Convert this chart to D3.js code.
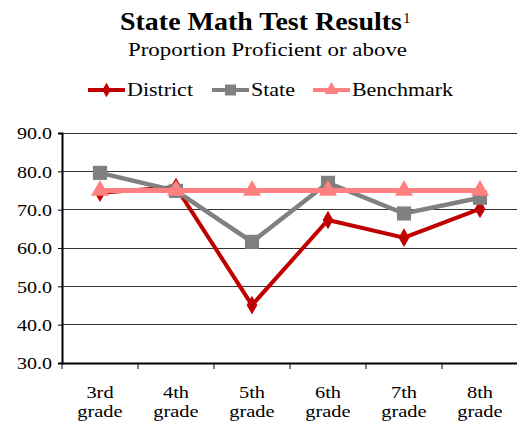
<!DOCTYPE html>
<html><head><meta charset="utf-8">
<script src="https://cdn.jsdelivr.net/npm/d3@7"></script>
<style>body{margin:0;background:#fff}svg{display:block}text{font-family:'Liberation Serif',serif}</style>
</head><body>
<script>
const grades = ["3rd grade","4th grade","5th grade","6th grade","7th grade","8th grade"];
const district = [74.4, 75.9, 45.1, 67.3, 62.7, 70.2];
const state = [79.6, 74.9, 61.6, 77.0, 69.0, 73.1];
const benchmark = [75, 75, 75, 75, 75, 75];
const yTicks = [30, 40, 50, 60, 70, 80, 90];
const seriesNames = ["District","State","Benchmark"];
const seriesColors = ["#C00000","#808080","#FF8080"];

const W = 517, H = 426;
const svg = d3.select("body").append("svg").attr("width", W).attr("height", H);
const font = "'Liberation Serif', serif";
const STRETCH = 1.2;
function stretch(sel, k) {
  sel.each(function() {
    const n = this.getComputedTextLength();
    d3.select(this).attr("textLength", n * (k || STRETCH)).attr("lengthAdjust", "spacingAndGlyphs");
  });
}

const x = d3.scaleBand().domain(grades).range([62, 518]);
const y = d3.scaleLinear().domain([30, 90]).range([363, 133]);

// title
svg.append("text").attr("x", 120).attr("y", 30)
  .style("font-family", font).attr("font-size", 25).attr("font-weight","bold")
  .text("State Math Test Results").attr("textLength", 282).attr("lengthAdjust","spacingAndGlyphs");
svg.append("text").attr("x", 403).attr("y", 23).style("font-family", font).attr("font-size", 15).text("1");
svg.append("text").attr("x", 128).attr("y", 56)
  .style("font-family", font).attr("font-size", 19).text("Proportion Proficient or above")
  .attr("textLength", 279).attr("lengthAdjust","spacingAndGlyphs");

// gridlines
svg.append("g").selectAll("line").data(yTicks.filter(d => d > 30)).join("line")
  .attr("x1", 62).attr("x2", 517).attr("y1", d => y(d)).attr("y2", d => y(d))
  .attr("stroke", "#333").attr("stroke-width", 1).attr("shape-rendering","crispEdges");

// y axis
const yAxis = svg.append("g").attr("transform","translate(62,0)")
  .call(d3.axisLeft(y).tickValues(yTicks).tickFormat(d3.format(".1f")).tickSize(4).tickPadding(6));
yAxis.select(".domain").attr("stroke","#000").attr("stroke-width",2);
yAxis.selectAll(".tick line").attr("stroke","#000").attr("stroke-width",1);
yAxis.selectAll(".tick text").style("font-family", font).attr("font-size", 17).attr("fill","#000").attr("dy","0.35em");
stretch(yAxis.selectAll(".tick text"), 1.18);

// x axis
const xAxis = svg.append("g").attr("transform","translate(0,363)")
  .call(d3.axisBottom(x).tickSize(0).tickFormat(""));
xAxis.select(".domain").attr("stroke","#000").attr("stroke-width",2);
svg.append("g").selectAll("line").data(grades).join("line")
  .attr("x1", d => x(d)).attr("x2", d => x(d)).attr("y1", 363).attr("y2", 369)
  .attr("stroke","#000").attr("stroke-width",1);
const xg = svg.append("g");
grades.forEach(g => {
  const parts = g.split(" ");
  const cx = x(g) + x.bandwidth()/2;
  const a = xg.append("text").attr("x", cx).attr("y", 398).attr("text-anchor","middle")
    .style("font-family", font).attr("font-size", 17).attr("fill","#000").text(parts[0]);
  const b = xg.append("text").attr("x", cx).attr("y", 417).attr("text-anchor","middle")
    .style("font-family", font).attr("font-size", 17).attr("fill","#000").text(parts[1]);
  stretch(a); stretch(b);
});

const line = d3.line().x((d,i) => x(grades[i]) + x.bandwidth()/2).y(d => y(d));
const symbols = [d3.symbolDiamond, d3.symbolSquare, d3.symbolTriangle];
const symSizes = [100, 200, 140];
const datas = [district, state, benchmark];
const widths = [4, 4.5, 5];

datas.forEach((data, k) => {
  svg.append("path").datum(data).attr("d", line).attr("fill","none")
    .attr("stroke", seriesColors[k]).attr("stroke-width", widths[k]).attr("stroke-linejoin","miter");
  svg.append("g").selectAll("path").data(data).join("path")
    .attr("transform", (d,i) => `translate(${x(grades[i]) + x.bandwidth()/2},${y(d)})`)
    .attr("d", d3.symbol().type(symbols[k]).size(symSizes[k]))
    .attr("fill", seriesColors[k]);
});

// legend
const legX = [88, 212, 313];
const legW = [66, 44, 101];
seriesNames.forEach((n, k) => {
  const g = svg.append("g").attr("transform", `translate(${legX[k]},90)`);
  g.append("line").attr("x1",0).attr("x2",37).attr("y1",0).attr("y2",0)
    .attr("stroke", seriesColors[k]).attr("stroke-width",4);
  g.append("path").attr("transform","translate(18.5,0)")
    .attr("d", d3.symbol().type(symbols[k]).size(symSizes[k]*0.6)).attr("fill", seriesColors[k]);
  g.append("text").attr("x", 39).attr("y", 6).style("font-family", font).attr("font-size", 19)
    .attr("fill","#000").text(n).attr("textLength", legW[k]).attr("lengthAdjust","spacingAndGlyphs");
});
</script>
</body></html>
